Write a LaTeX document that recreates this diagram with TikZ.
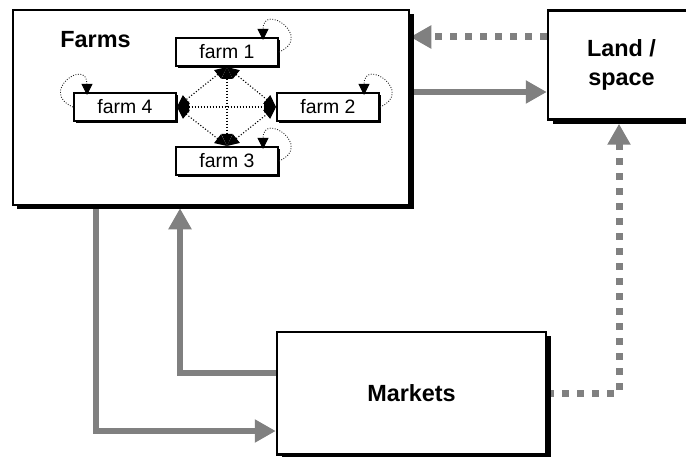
\documentclass[tikz,border=0pt]{standalone}
\usepackage{fontspec}
\setmainfont{Liberation Sans}
\usetikzlibrary{arrows.meta,shadows,backgrounds,calc}
\begin{document}
\begin{tikzpicture}[x=1bp,y=-1bp,
  bigbox/.style={draw, line width=2.5bp, fill=white, inner sep=0pt,
    drop shadow={shadow xshift=4.5bp, shadow yshift=-4.5bp, fill=black, opacity=1},
    font=\fontsize{23.5}{30}\selectfont\bfseries, align=center},
  farmbox/.style={draw, line width=2bp, fill=white, inner sep=0pt,
    minimum width=102bp, minimum height=28bp,
    drop shadow={shadow xshift=2bp, shadow yshift=-2bp, fill=black, opacity=1},
    font=\fontsize{19.5}{22}\selectfont},
  garrow/.style={draw=gray, line width=6.5bp, -{Triangle[length=21bp,width=22bp]}},
  gdot/.style={draw=gray, line width=7bp, dash pattern=on 7bp off 8bp, -{Triangle[length=21bp,width=22bp]}},
  netline/.style={draw=black, line width=1.1bp, dash pattern=on 1.1bp off 1.9bp,
    {Triangle[length=12bp,width=11bp]}-{Triangle[length=12bp,width=11bp]}},
  loopline/.style={draw=black!85, line width=0.9bp, dash pattern=on 0.9bp off 1.6bp,
    -{Triangle[length=11bp,width=11bp,black]}},
  title/.style={font=\fontsize{23.5}{30}\selectfont\bfseries, inner sep=0pt}
]
\useasboundingbox (0,0) rectangle (686,457);

% main boxes
\node[bigbox, minimum width=396bp, minimum height=195bp] (farms) at (211,107.5) {};
\node[title] (farmslbl) at (95.5,40) {Farms};
\node[bigbox, minimum width=147bp, minimum height=109bp] (land) at (621.5,65) {Land /\\space};
\node[bigbox, minimum width=269bp, minimum height=122.5bp] (markets) at (411.5,393.25) {Markets};

% farm boxes
\node[farmbox] (f1) at (227,52) {farm 1};
\node[farmbox] (f2) at (328,107) {farm 2};
\node[farmbox] (f3) at (227,161) {farm 3};
\node[farmbox] (f4) at (125,107) {farm 4};

% network among farms
\draw[netline] (f1.south) -- (f3.north);
\draw[netline] (f4.east) -- (f2.west);
\draw[netline] (f1.south) -- (f4.east);
\draw[netline] (f1.south) -- (f2.west);
\draw[netline] (f3.north) -- (f4.east);
\draw[netline] (f3.north) -- (f2.west);

% self loops
\draw[loopline] (f1.east) .. controls +(35,-15) and +(0,-38) .. ([xshift=-16bp,yshift=-3bp]f1.north east);
\draw[loopline] (f2.east) .. controls +(35,-15) and +(0,-38) .. ([xshift=-16bp,yshift=-3bp]f2.north east);
\draw[loopline] (f3.east) .. controls +(35,-15) and +(0,-38) .. ([xshift=-16bp,yshift=-3bp]f3.north east);
\draw[loopline] (f4.west) .. controls +(-35,-15) and +(0,-38) .. ([xshift=14bp,yshift=-3bp]f4.north west);

% gray connectors behind the boxes
\begin{scope}[on background layer]
  \coordinate (lf) at ([yshift=28bp]land.west);
  \draw[gdot] (lf) -- (lf -| farms.east);
  \coordinate (fl) at ([yshift=-27bp]land.west);
  \draw[garrow] (fl -| farms.east) -- (fl);
  \coordinate (mf) at ([yshift=20.25bp]markets.west);
  \draw[garrow] (mf) -| ([xshift=-31bp,yshift=-2bp]farms.south);
  \coordinate (fm) at ([yshift=-37.75bp]markets.west);
  \draw[garrow] ([xshift=-115bp]farms.south) |- (fm);
  \draw[gdot] (markets.east) -| ([xshift=-2.5bp,yshift=-3bp]land.south);
\end{scope}
\end{tikzpicture}
\end{document}
